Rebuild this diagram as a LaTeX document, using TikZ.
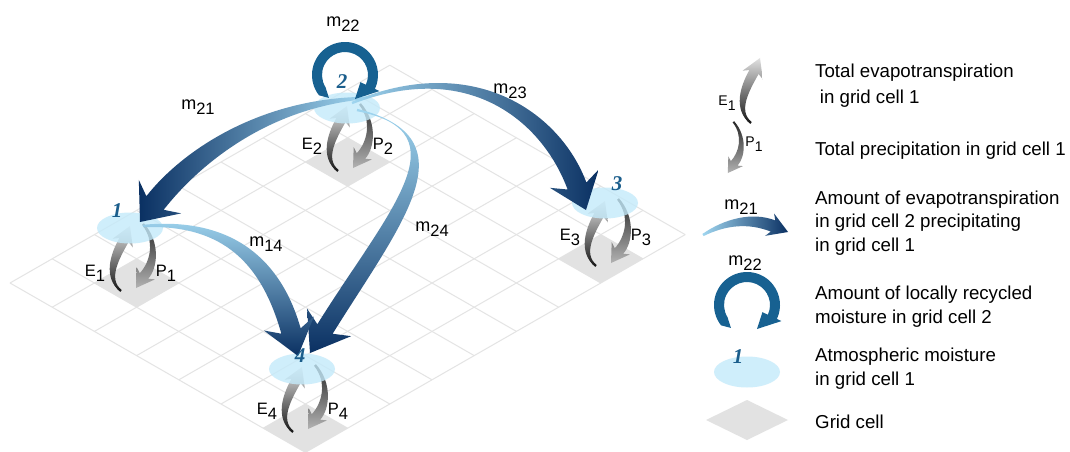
\documentclass[tikz,border=0pt]{standalone}
\usepackage{fontspec}
\setmainfont{Liberation Sans}
\newfontfamily\numfont{Liberation Serif}
\usetikzlibrary{calc,shapes}

\definecolor{gridgray}{RGB}{228,228,228}
\definecolor{cellgray}{RGB}{226,226,226}
\definecolor{moistblue}{RGB}{196,234,250}
\definecolor{skyblue}{RGB}{160,214,240}
\definecolor{navyblue}{RGB}{10,48,98}
\definecolor{ringblue}{RGB}{23,97,145}
\definecolor{numblue}{RGB}{27,94,140}

% tapered, shaded arrow: [shading]{tail}{ctrl1}{ctrl2}{head base}{tip}{half width}{head half width}
\newcommand\flowarrow[8][]{%
  \pgfmathsetmacro\barbd{sqrt(#8*#8+(0.3*#8)^2)}%
  \pgfmathsetmacro\barba{90+atan(0.3)}%
  \shade[#1] ($(#2)!1.2pt!90:(#3)$)
    .. controls ($(#3)!#7*0.55pt!90:(#4)$) and ($(#4)!#7*1.0pt!90:(#5)$) .. ($(#5)!#7pt!90:(#6)$)
    -- ($(#5)!\barbd pt!\barba:(#6)$) -- (#6) -- ($(#5)!\barbd pt!-\barba:(#6)$)
    -- ($(#5)!#7pt!-90:(#6)$)
    .. controls ($(#4)!#7*1.0pt!-90:(#5)$) and ($(#3)!#7*0.55pt!-90:(#4)$) .. ($(#2)!1.2pt!-90:(#3)$) -- cycle;}
\newcommand\evaparrow{\flowarrow[bottom color=black!92,top color=black!12]{-9,-63}{-25,-50}{-15,-28}{-6,-12}{0,2}{5}{11}}
\newcommand\precarrow{\flowarrow[top color=black!85,bottom color=black!30]{13,4}{28,-14}{24,-37}{14,-48}{6,-60}{5}{11}}
\newcommand\recycle{%
  \fill[ringblue] (235:28) -- (218:33) arc[start angle=218,end angle=-25,radius=33]
    -- (-25:38) -- (10,-24) -- (-25:17) -- (-25:23) arc[start angle=-25,end angle=212,radius=23] -- cycle;}
\newcommand\sublbl[2]{#1\raisebox{-5pt}{#2}}
\newcommand\flowsub[1]{m\raisebox{-5.5pt}{\fontsize{16.5}{18}\selectfont#1}}

\tikzset{
  gridline/.style={draw=gridgray,line width=1pt},
  moist/.style={ellipse,minimum width=66pt,minimum height=31pt,fill=moistblue,fill opacity=.8,inner sep=0pt},
  cellnum/.style={font=\numfont\bfseries\itshape\fontsize{21}{21}\selectfont,text=numblue,inner sep=0pt},
  mlbl/.style={font=\fontsize{18}{20}\selectfont,inner sep=0pt},
  eplbl/.style={font=\fontsize{16.5}{18}\selectfont,inner sep=0pt},
  legtext/.style={font=\fontsize{18.7}{23.5}\selectfont,align=left,anchor=base west,inner sep=0pt}
}

\begin{document}
\begin{tikzpicture}[x=1pt,y=1pt]
  \useasboundingbox[fill=white] (0,0) rectangle (1070,-452);

  % grid and grid cells
  \begin{scope}[shift={(10,-283)},x={(42.2pt,-24.2pt)},y={(42.2pt,24.2pt)}]
    \foreach \i in {0,...,7} \draw[gridline] (\i,0) -- (\i,9);
    \foreach \j in {0,...,9} \draw[gridline] (0,\j) -- (7,\j);
    \foreach \a/\b in {1/1,1/6,6/7,6/0}
      \fill[cellgray] (\a,\b) -- ++(1,0) -- ++(0,1) -- ++(-1,0) -- cycle;
  \end{scope}

  \coordinate (c1) at (130,-228);
  \coordinate (c2) at (347,-108);
  \coordinate (c3) at (605,-203);
  \coordinate (c4) at (302,-369);

  % evapotranspiration and precipitation
  \foreach \k in {1,...,4}{
    \begin{scope}[shift={(c\k)}]
      \evaparrow
      \precarrow
    \end{scope}}
  \foreach \k/\dy in {1/-45,2/-38,3/-34,4/-42}{
    \node[eplbl] (e\k) at ($(c\k)+(-35,\dy)$) {\sublbl{E}{\k}};
    \node[eplbl] (p\k) at ($(c\k)+(36,\dy)$) {\sublbl{P}{\k}};}

  % atmospheric moisture
  \foreach \k in {1,...,4} \node[moist] (n\k) at (c\k) {};

  % moisture flows
  \coordinate (s21) at ($(n2)+(18,10)$);
  \coordinate (t21) at ($(n1)+(10,6)$);
  \coordinate (b21) at ($(t21)+(15,19)$);
  \flowarrow[left color=navyblue,right color=skyblue]{s21}{265,-103}{192,-156}{b21}{t21}{11}{27}
  \coordinate (s23) at ($(n2)+(5,5)$);
  \coordinate (t23) at ($(n3)+(-19,-7)$);
  \coordinate (b23) at ($(t23)+(-9,24)$);
  \flowarrow[left color=skyblue,right color=navyblue]{s23}{470,-55}{551,-116}{b23}{t23}{10}{26}
  \coordinate (s24) at ($(n2)+(10,-2)$);
  \coordinate (t24) at ($(n4)+(8,16)$);
  \coordinate (b24) at ($(t24)+(15,24)$);
  \flowarrow[top color=skyblue,bottom color=navyblue]{s24}{470,-135}{394,-218}{b24}{t24}{9}{26}
  \coordinate (s14) at ($(n1)+(13,2)$);
  \coordinate (t14) at ($(n4)+(-4,13)$);
  \coordinate (b14) at ($(t14)+(-7,25)$);
  \flowarrow[top color=skyblue,bottom color=navyblue]{s14}{230,-220}{272,-264}{b14}{t14}{10}{26}
  \begin{scope}[shift={($(n2)+(-2,33)$)}]
    \recycle
  \end{scope}

  \node[cellnum] (k1) at ($(n1)+(-13,17)$) {1};
  \node[cellnum] (k2) at ($(n2)+(-5,26)$) {2};
  \node[cellnum] (k3) at ($(n3)+(12,19)$) {3};
  \node[cellnum] (k4) at ($(n4)+(-2,13)$) {4};

  \node[mlbl] (m22) at (343,-24) {\flowsub{22}};
  \node[mlbl] (m21) at (198,-107) {\flowsub{21}};
  \node[mlbl] (m23) at (510,-91) {\flowsub{23}};
  \node[mlbl] (m24) at (432,-229) {\flowsub{24}};
  \node[mlbl] (m14) at (266,-244) {\flowsub{14}};

  % legend
  \begin{scope}[shift={(760,-60)}]
    \evaparrow
  \end{scope}
  \begin{scope}[shift={(723,-125)},scale=.8]
    \precarrow
  \end{scope}
  \node[eplbl,font=\fontsize{14}{16}\selectfont] (le) at (727,-103) {\sublbl{E}{1}};
  \node[eplbl,font=\fontsize{14}{16}\selectfont] (lp) at (754,-144) {\sublbl{P}{1}};
  \coordinate (ls) at (703,-235);
  \coordinate (lb) at (773,-226);
  \coordinate (lt) at (788,-232);
  \flowarrow[left color=skyblue,right color=navyblue]{ls}{725,-222}{750,-217}{lb}{lt}{6}{12}
  \node[mlbl] (lm21) at (741,-207) {\flowsub{21}};
  \begin{scope}[shift={(747,-305)}]
    \recycle
  \end{scope}
  \node[mlbl] (lm22) at (745,-263) {\flowsub{22}};
  \node[moist] (ln) at (747,-372) {};
  \node[cellnum] (lk) at ($(ln)+(-9,15)$) {1};
  \fill[cellgray] (706,-420) -- (747,-400) -- (788,-420) -- (747,-440) -- cycle;

  % legend texts (anchored at the baseline of the last line)
  \node[legtext,font=\fontsize{18.7}{26}\selectfont] (t1) at (815,-103) {Total evapotranspiration\\\hspace*{.25em}in grid cell 1};
  \node[legtext] (t2) at (815,-155) {Total precipitation in grid cell 1};
  \node[legtext] (t3) at (815,-251) {Amount of evapotranspiration\\in grid cell 2 precipitating\\in grid cell 1};
  \node[legtext] (t4) at (815,-323) {Amount of locally recycled\\moisture in grid cell 2};
  \node[legtext] (t5) at (815,-385) {Atmospheric moisture\\in grid cell 1};
  \node[legtext] (t6) at (815,-428) {Grid cell};
\end{tikzpicture}
\end{document}
